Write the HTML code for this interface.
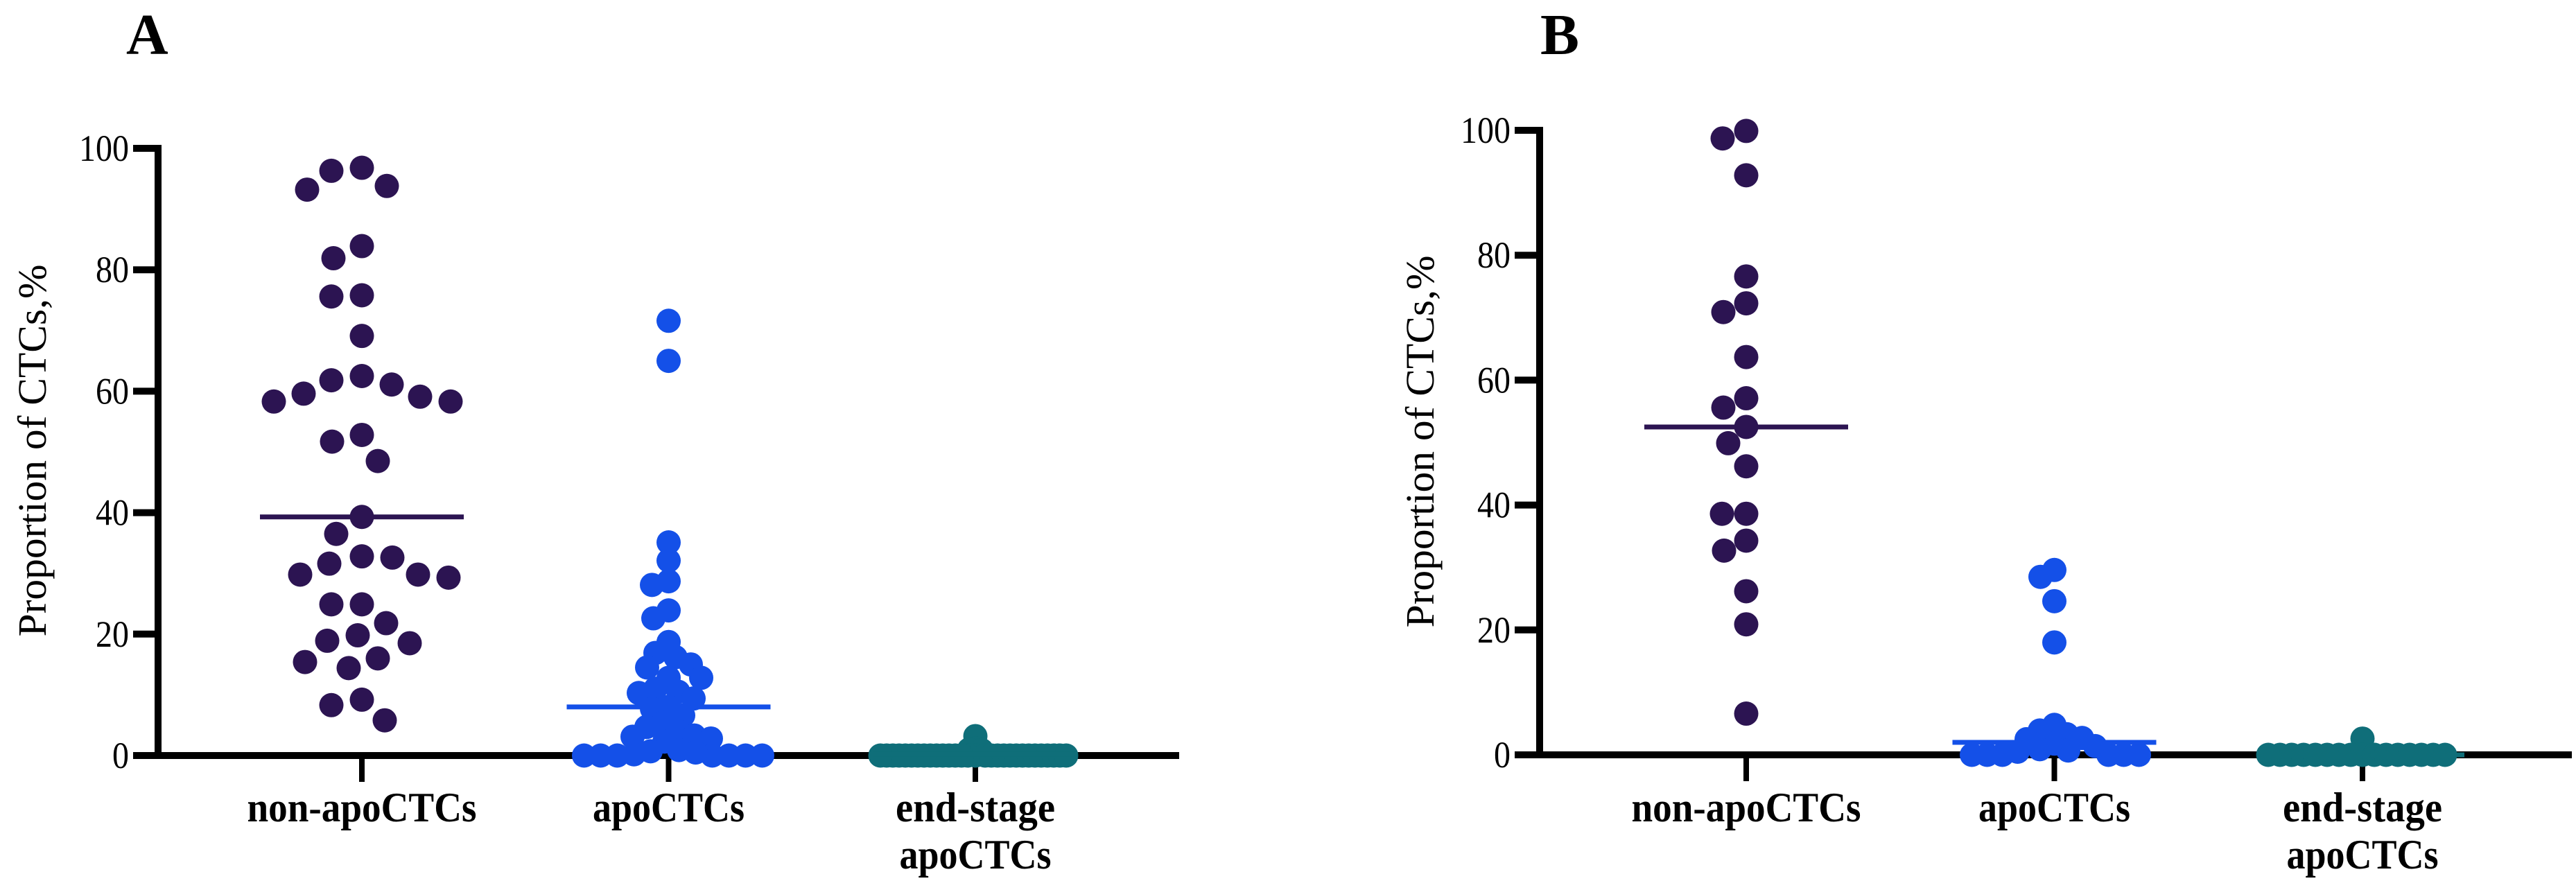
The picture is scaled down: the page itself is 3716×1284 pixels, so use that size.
<!DOCTYPE html>
<html><head><meta charset="utf-8"><style>
html,body{margin:0;padding:0;background:#fff;}
svg{display:block;}
text{font-family:"Liberation Serif",serif;}
</style></head><body>
<svg id="chart" width="3716" height="1284" viewBox="0 0 3716 1284" xmlns="http://www.w3.org/2000/svg"></svg>
<script>
const categories = ["non-apoCTCs", "apoCTCs", "end-stage|apoCTCs"];
const yTicks = [0, 20, 40, 60, 80, 100];
const panelLabels = ["A", "B"];

const aNonApo = [96.8,93.2,93.8,96.3,81.9,83.9,75.6,75.8,69.1,61.1,58.3,59.6,62.5,58.3,59.1,61.8,51.7,52.8,48.5,39.3,36.5,31.6,32.8,29.8,29.3,29.8,32.6,24.9,24.9,18.9,18.5,19.8,21.8,14.4,16.0,15.4,9.2,8.3,5.8];
const aApo = [71.6,65,35.1,32.1,28.7,28.1,23.9,22.6,18.7,16.2,16.9,15,14.5,12.8,12.8,11,10.5,10.3,9.4,8,7.7,6.6,5.4,4.7,4,3.3,3.1,2.3,2.8,0,0,0.5,0,0,0.7,0.9,0,0,0,0.2];
const aEnd = [3.2,1.2,1.0,0.9,0,0,0,0,0,0,0,0,0,0,0,0,0,0,0,0,0,0,0,0,0,0,0,0,0,0,0,0,0,0];
const aMedians = [39.3, 8.0, 0.2];

const bNonApo = [99.9,98.7,92.8,76.6,72.3,70.9,63.7,57.1,55.6,52.5,49.9,46.2,38.6,38.6,34.3,32.7,26.2,20.9,6.6];
const bApo = [29.6,28.5,24.6,18,4.8,3.9,3.3,2.7,2.5,1.8,0.9,0.5,0,0,0,0,0,0.7,1.4,0];
const bEnd = [2.6,0,0,0,0,0,0,0,0,0,0,0,0,0,0,0,0];
const bMedians = [52.5, 2.0, 0];

const colors = ["#2c1452", "#1450e8", "#0f6e79"];
const labelWidths = {"non-apoCTCs": 331, "apoCTCs": 219, "end-stage": 230};
const NS = "http://www.w3.org/2000/svg";
const svg = document.getElementById("chart");

function mk(tag, attrs, parent) {
  const e = document.createElementNS(NS, tag);
  for (const k in attrs) e.setAttribute(k, attrs[k]);
  (parent || svg).appendChild(e);
  return e;
}

function swarm(vals, yFn, D) {
  const placed = [];
  const order = vals.map((v, i) => i).sort((a, b) => vals[b] - vals[a]);
  const out = new Array(vals.length);
  for (const i of order) {
    const y = yFn(vals[i]);
    let off = 0;
    for (let s = 0; s < 2000; s++) {
      const cand = (s % 2 === 0 ? 1 : -1) * Math.ceil(s / 2);
      let ok = true;
      for (const p of placed) {
        const dx = p.x - cand, dy = p.y - y;
        if (dx * dx + dy * dy < D * D - 0.5) { ok = false; break; }
      }
      if (ok) { off = cand; break; }
    }
    placed.push({x: off, y: y});
    out[i] = off;
  }
  return out;
}

function panel(cfg) {
  const g = mk("g", {});
  
  
  const yScale = v => cfg.y0 + (cfg.y100 - cfg.y0) * v / 100;
  const xScale = i => cfg.cat0 + i * cfg.catStep;

  const pl = mk("text", {x: cfg.labelX, y: 78, "font-size": 84, "font-weight": "bold"}, g);
  pl.textContent = cfg.label;
  
  

  const yt = mk("text", {x: 0, y: 0, "font-size": 58, "text-anchor": "middle", textLength: 537, lengthAdjust: "spacingAndGlyphs",
    transform: "translate(" + cfg.titleX + "," + cfg.titleY + ") rotate(-90)"}, g);
  yt.textContent = "Proportion of CTCs,%";
  
  

  const ya = mk("line", {x1: cfg.axisX, x2: cfg.axisX, y1: yScale(100) - 5, y2: cfg.y0 + 5, stroke: "#000", "stroke-width": 10}, g);
  
  
  yTicks.forEach(t => {
    const y = yScale(t);
    const tk = mk("line", {x1: cfg.axisX - 36, x2: cfg.axisX, y1: y, y2: y, stroke: "#000", "stroke-width": 10}, g);
    
    
    const tl = mk("text", {x: cfg.axisX - 42, y: y + 18, "font-size": 54, "text-anchor": "end", textLength: String(t).length * 24, lengthAdjust: "spacingAndGlyphs"}, g);
    tl.textContent = t;
    
    
  });

  const xa = mk("line", {x1: cfg.axisX - 36, x2: cfg.axisEnd, y1: cfg.y0, y2: cfg.y0, stroke: "#000", "stroke-width": 10}, g);
  
  

  categories.forEach((c, i) => {
    const x = xScale(i);
    const tk = mk("line", {x1: x, x2: x, y1: cfg.y0, y2: cfg.y0 + 38, stroke: "#000", "stroke-width": 8}, g);
    
    
    c.split("|").forEach((line, li) => {
      const tl = mk("text", {x: x, y: 1185 + li * 68, "font-size": 60, "font-weight": "bold", "text-anchor": "middle",
        textLength: labelWidths[line], lengthAdjust: "spacingAndGlyphs"}, g);
      tl.textContent = line;
      
      
    });
  });

  cfg.series.forEach((vals, si) => {
    const cx = xScale(si);
    const offs = swarm(vals, yScale, cfg.spacing[si]);
    vals.forEach((v, i) => {
      const d = mk("circle", {cx: cx + offs[i], cy: yScale(v), r: 17.5, fill: colors[si]}, g);
      
      
    });
    const my = yScale(cfg.medians[si]);
    const ml = mk("line", {x1: cx - 147, x2: cx + 147, y1: my, y2: my, stroke: colors[si], "stroke-width": 7}, g);
    
    
  });
}

panel({label: "A", labelX: 182, axisX: 228, y0: 1090, y100: 214, cat0: 522, catStep: 442.5, axisEnd: 1701,
  titleX: 66, titleY: 650, series: [aNonApo, aApo, aEnd], medians: aMedians, spacing: [44, 24, 9]});
panel({label: "B", labelX: 2222, axisX: 2221, y0: 1089, y100: 188, cat0: 2519, catStep: 444.5, axisEnd: 3710,
  titleX: 2068, titleY: 637, series: [bNonApo, bApo, bEnd], medians: bMedians, spacing: [35, 22, 17]});
</script>
</body></html>
